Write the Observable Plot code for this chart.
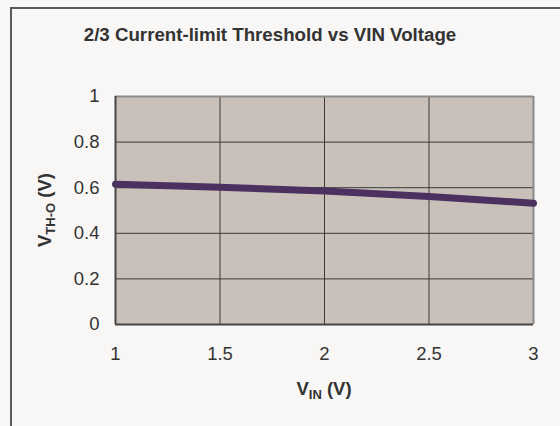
<!DOCTYPE html>
<html>
<head>
<meta charset="utf-8">
<script src="https://cdn.jsdelivr.net/npm/d3@7"></script>
<script src="https://cdn.jsdelivr.net/npm/@observablehq/plot@0.6"></script>
<style>
  html, body { margin: 0; padding: 0; background: #f8f7f5; }
  #wrap { position: relative; width: 560px; height: 426px; overflow: hidden; background: #f8f7f5; }
  #border { position: absolute; left: 10px; top: 7px; width: 600px; height: 500px; border: 2px solid #5a5a5a; box-sizing: border-box; }
  #title { position: absolute; left: 0; top: 24px; width: 540px; text-align: center; font: bold 18.7px "Liberation Sans", Arial, sans-serif; color: #333; }
  #chart { position: absolute; left: 0; top: 0; }
</style>
</head>
<body>
<div id="wrap">
  <div id="border"></div>
  <div id="title">2/3 Current-limit Threshold vs VIN Voltage</div>
  <div id="chart"></div>
</div>
<script>
const vin = [1, 1.5, 2, 2.5, 3];
const vth = [0.615, 0.602, 0.585, 0.561, 0.532];
const xTicks = [1, 1.5, 2, 2.5, 3];
const yTicks = [0, 0.2, 0.4, 0.6, 0.8, 1];
const xGrid = [1.5, 2, 2.5];
const yGrid = [0.2, 0.4, 0.6, 0.8];

const data = vin.map((v, i) => ({x: v, y: vth[i]}));

const plot = Plot.plot({
  width: 560,
  height: 426,
  marginLeft: 115,
  marginRight: 27,
  marginTop: 96,
  marginBottom: 102,
  style: {background: "transparent", fontFamily: "'Liberation Sans', Arial, sans-serif", fontSize: "18.5px", color: "#333"},
  x: {domain: [1, 3], ticks: xTicks, tickFormat: d => String(d)},
  y: {domain: [0, 1], ticks: yTicks, tickFormat: d => String(d)},
  marks: [
    Plot.frame({fill: "#c8c0b9", stroke: null}),
    Plot.ruleX(xGrid, {stroke: "#3a3a3a", strokeWidth: 1}),
    Plot.ruleY(yGrid, {stroke: "#3a3a3a", strokeWidth: 1}),
    Plot.ruleY([1], {stroke: "#8a8a8a", strokeWidth: 2}),
    Plot.ruleX([3], {stroke: "#8a8a8a", strokeWidth: 2}),
    Plot.ruleX([1], {stroke: "#444", strokeWidth: 2}),
    Plot.ruleY([0], {stroke: "#444", strokeWidth: 2}),
    Plot.line(data, {x: "x", y: "y", stroke: "#4b3160", strokeWidth: 7}),
    Plot.axisX({ticks: xTicks, tickSize: 0, tickPadding: 22, label: null, tickFormat: d => String(d), fill: "#333"}),
    Plot.axisY({ticks: yTicks, tickSize: 0, tickPadding: 16, label: null, tickFormat: d => String(d), fill: "#333"})
  ]
});
document.getElementById("chart").appendChild(plot);

const svg = d3.select(plot);
const xr = plot.scale("x").range;
const yr = plot.scale("y").range;
const cx = (xr[0] + xr[1]) / 2;
const cy = (yr[0] + yr[1]) / 2;

const xl = svg.append("text")
  .attr("x", cx).attr("y", 395)
  .attr("text-anchor", "middle")
  .attr("font-weight", "bold").attr("font-size", 18.5).attr("fill", "#333");
xl.append("tspan").text("V");
xl.append("tspan").attr("font-size", 13).attr("dy", 4).text("IN");
xl.append("tspan").attr("dy", -4).text(" (V)");

const yl = svg.append("text")
  .attr("transform", `translate(51,${cy}) rotate(-90)`)
  .attr("text-anchor", "middle")
  .attr("font-weight", "bold").attr("font-size", 18.5).attr("fill", "#333");
yl.append("tspan").text("V");
yl.append("tspan").attr("font-size", 13).attr("dy", 4).text("TH-O");
yl.append("tspan").attr("dy", -4).text(" (V)");
</script>
</body>
</html>
